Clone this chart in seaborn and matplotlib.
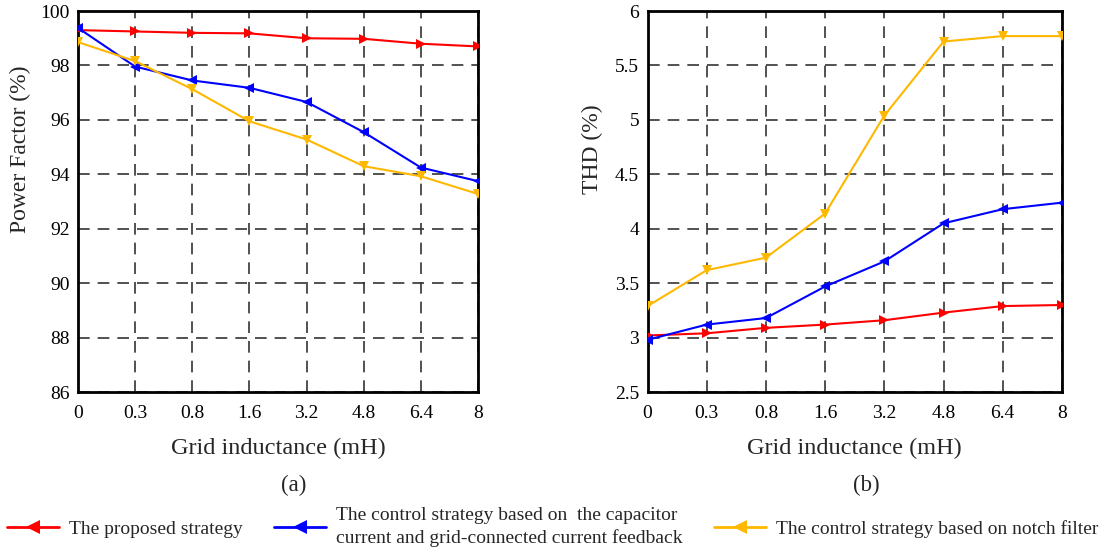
import numpy as np
import pandas as pd
import matplotlib
matplotlib.use("Agg")
import matplotlib.pyplot as plt
from matplotlib.lines import Line2D
import seaborn as sns

# ---- data ----
x_labels = ["0", "0.3", "0.8", "1.6", "3.2", "4.8", "6.4", "8"]

pf_proposed = [99.30, 99.25, 99.20, 99.18, 99.00, 98.98, 98.80, 98.70]
pf_capacitor = [99.38, 97.96, 97.45, 97.18, 96.66, 95.55, 94.25, 93.75]
pf_notch = [98.86, 98.16, 97.13, 95.95, 95.28, 94.30, 93.93, 93.28]

thd_proposed = [3.02, 3.04, 3.09, 3.12, 3.16, 3.23, 3.29, 3.30]
thd_capacitor = [2.98, 3.12, 3.18, 3.47, 3.70, 4.05, 4.18, 4.24]
thd_notch = [3.29, 3.62, 3.735, 4.14, 5.04, 5.72, 5.77, 5.77]

series_names = [
    "The proposed strategy",
    "The control strategy based on  the capacitor\ncurrent and grid-connected current feedback",
    "The control strategy based on notch filter",
]
colors = ["#FF0000", "#0000FF", "#FFB800"]
markers = [">", "<", "v"]

pf_ticks = [86, 88, 90, 92, 94, 96, 98, 100]
thd_ticks = [2.5, 3, 3.5, 4, 4.5, 5, 5.5, 6]
thd_tick_labels = ["2.5", "3", "3.5", "4", "4.5", "5", "5.5", "6"]

# ---- style ----
sns.set_theme(style="white")
plt.rcParams["font.family"] = ["Liberation Serif", "DejaVu Serif"]
plt.rcParams["mathtext.fontset"] = "stix"

fig = plt.figure(figsize=(11.05, 5.53), dpi=100)
ax1 = fig.add_axes([0.0706, 0.291, 0.362, 0.689])
ax2 = fig.add_axes([0.586, 0.291, 0.375, 0.689])

pos = np.arange(len(x_labels))


def draw(ax, series_list, ylabel, yticks, yticklabels, ylim, label_x):
    for vals, c, m in zip(series_list, colors, markers):
        df = pd.DataFrame({"x": pos, "y": vals})
        sns.lineplot(data=df, x="x", y="y", ax=ax, color=c, marker=m,
                     markersize=7.5, markeredgewidth=0, linewidth=1.5,
                     legend=False, zorder=3)
    ax.set_xlim(0, len(x_labels) - 1)
    ax.set_ylim(*ylim)
    ax.set_xticks(pos)
    ax.set_xticklabels(x_labels)
    ax.set_yticks(yticks)
    ax.set_yticklabels(yticklabels)
    ax.grid(True, color="#333333", linestyle=(0, (7, 4.8)), linewidth=1.2)
    ax.set_axisbelow(True)
    ax.tick_params(axis="both", length=0, labelsize=14, colors="black")
    ax.tick_params(axis="x", pad=9)
    ax.tick_params(axis="y", pad=6)
    for s in ax.spines.values():
        s.set_color("black")
        s.set_linewidth(2)
    ax.set_xlabel("Grid inductance (mH)", fontsize=17.5, labelpad=12)
    ax.set_ylabel(ylabel, fontsize=17, va="center")
    ax.yaxis.set_label_coords(label_x, 0.638)


draw(ax1, [pf_proposed, pf_capacitor, pf_notch], "Power Factor (%)",
     pf_ticks, [str(t) for t in pf_ticks], (86, 100), -0.145)
draw(ax2, [thd_proposed, thd_capacitor, thd_notch], "THD (%)",
     thd_ticks, thd_tick_labels, (2.5, 6), -0.133)

fig.text(0.266, 0.122, "(a)", ha="center", va="center", fontsize=16.5)
fig.text(0.784, 0.122, "(b)", ha="center", va="center", fontsize=16.5)

handles = [Line2D([0], [0], color=c, marker="<", markersize=10,
                  markeredgewidth=0, linewidth=2) for c in colors]
leg = fig.legend(handles, series_names, loc="center", bbox_to_anchor=(0.5, 0.047),
                 ncol=3, frameon=False, fontsize=14, handlelength=2.7,
                 handletextpad=0.5, columnspacing=1.6, borderaxespad=0)
leg.get_texts()[1].set_linespacing(1.35)

fig.savefig("out.png", dpi=100)
